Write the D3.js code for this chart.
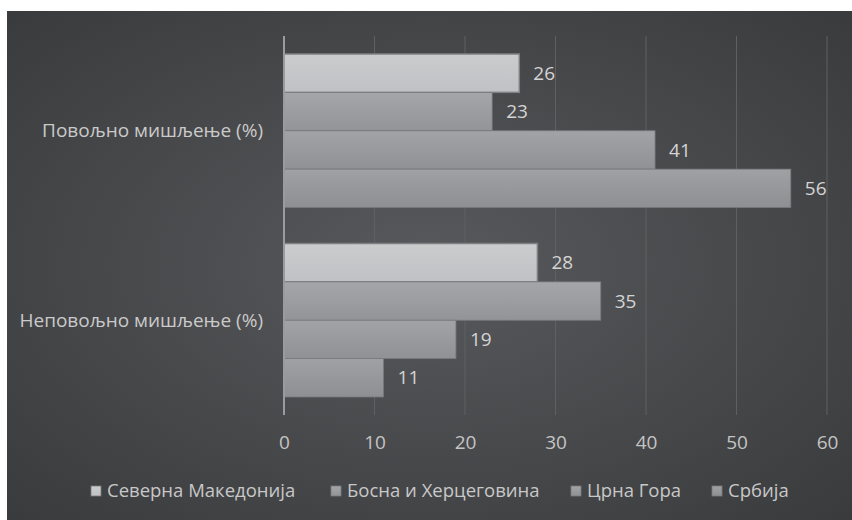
<!DOCTYPE html>
<html>
<head>
<meta charset="utf-8">
<script src="https://cdn.jsdelivr.net/npm/d3@7"></script>
<style>
  html, body { margin: 0; padding: 0; background: #ffffff; }
  svg { display: block; }
  text { font-family: "Open Sans", "Noto Sans", sans-serif; }
</style>
</head>
<body>
<svg id="chart" width="852" height="520"></svg>
<script>
const categories = ["Повољно мишљење (%)", "Неповољно мишљење (%)"];
const seriesNames = ["Северна Македонија", "Босна и Херцеговина", "Црна Гора", "Србија"];
const severnaMakedonija = [26, 28];
const bosnaIHercegovina = [23, 35];
const crnaGora = [41, 19];
const srbija = [56, 11];
const xTicks = [0, 10, 20, 30, 40, 50, 60];

const seriesValues = [severnaMakedonija, bosnaIHercegovina, crnaGora, srbija];
const colorsTop = ["#cbccce", "#a5a6a9", "#a2a3a6", "#a0a1a4"];
const colorsBot = ["#c0c1c4", "#939497", "#909194", "#8e8f92"];

const svg = d3.select("#chart");
const defs = svg.append("defs");

const bg = defs.append("radialGradient").attr("id", "bg")
  .attr("cx", "0.5").attr("cy", "0.5").attr("r", "0.7");
bg.append("stop").attr("offset", "0%").attr("stop-color", "#58595c");
bg.append("stop").attr("offset", "100%").attr("stop-color", "#3a3b3d");

seriesNames.forEach((s, i) => {
  const g = defs.append("linearGradient").attr("id", "bar" + i)
    .attr("x1", 0).attr("y1", 0).attr("x2", 0).attr("y2", 1);
  g.append("stop").attr("offset", "0%").attr("stop-color", colorsTop[i]);
  g.append("stop").attr("offset", "100%").attr("stop-color", colorsBot[i]);
});

svg.append("rect").attr("x", 7).attr("y", 11).attr("width", 845).attr("height", 509)
  .attr("fill", "url(#bg)");

const x = d3.scaleLinear().domain([0, 60]).range([284, 827]);
const y0 = d3.scaleBand().domain(categories).range([36, 415])
  .paddingInner(0.19).paddingOuter(0.095);
const y1 = d3.scaleBand().domain(seriesNames).range([0, y0.bandwidth()]);

// gridlines
svg.append("g").selectAll("line").data(xTicks.filter(t => t > 0)).join("line")
  .attr("x1", d => x(d)).attr("x2", d => x(d))
  .attr("y1", 36).attr("y2", 415)
  .attr("stroke", "#5f6063").attr("stroke-width", 1);

// bars
const groups = svg.append("g").selectAll("g").data(categories).join("g")
  .attr("transform", c => `translate(0,${y0(c)})`);

groups.each(function(c, ci) {
  const g = d3.select(this);
  seriesNames.forEach((s, si) => {
    const v = seriesValues[si][ci];
    g.append("rect")
      .attr("x", x(0)).attr("y", y1(s))
      .attr("width", x(v) - x(0)).attr("height", y1.bandwidth())
      .attr("fill", `url(#bar${si})`)
      .attr("stroke", si === 0 ? "#7f8083" : "#77787b")
      .attr("stroke-width", si === 0 ? 1.5 : 0.8);
    g.append("text")
      .attr("x", x(v) + 14).attr("y", y1(s) + y1.bandwidth() / 2)
      .attr("dy", "0.35em")
      .attr("fill", "#d4d4d4").attr("font-size", 19)
      .text(v);
  });
});

// axis line
svg.append("line").attr("x1", x(0)).attr("x2", x(0)).attr("y1", 36).attr("y2", 415)
  .attr("stroke", "#9a9b9e").attr("stroke-width", 2);

// category labels
svg.append("g").selectAll("text").data(categories).join("text")
  .attr("x", 263).attr("y", c => y0(c) + y0.bandwidth() / 2)
  .attr("dy", "0.35em").attr("text-anchor", "end")
  .attr("fill", "#cacaca").attr("font-size", 19)
  .text(c => c);

// x tick labels
const xAxis = d3.axisBottom(x).tickValues(xTicks).tickSize(0).tickPadding(0);
const ax = svg.append("g").attr("transform", "translate(0,442)").call(xAxis);
ax.select(".domain").remove();
ax.selectAll("text").attr("dy", "0.35em").attr("fill", "#c4c4c4")
  .attr("font-size", 19).attr("font-family", "'Open Sans', sans-serif");

// legend
const legendX = [91, 331, 571, 712];
const leg = svg.append("g").selectAll("g").data(seriesNames).join("g")
  .attr("transform", (d, i) => `translate(${legendX[i]},491)`);
leg.append("rect").attr("x", 0).attr("y", -5).attr("width", 10).attr("height", 10)
  .attr("fill", (d, i) => `url(#bar${i})`).attr("stroke", "#7a7b7e").attr("stroke-width", 0.8);
leg.append("text").attr("x", 16).attr("dy", "0.35em")
  .attr("fill", "#c8c8c8").attr("font-size", 18.5)
  .text(d => d);
</script>
</body>
</html>
